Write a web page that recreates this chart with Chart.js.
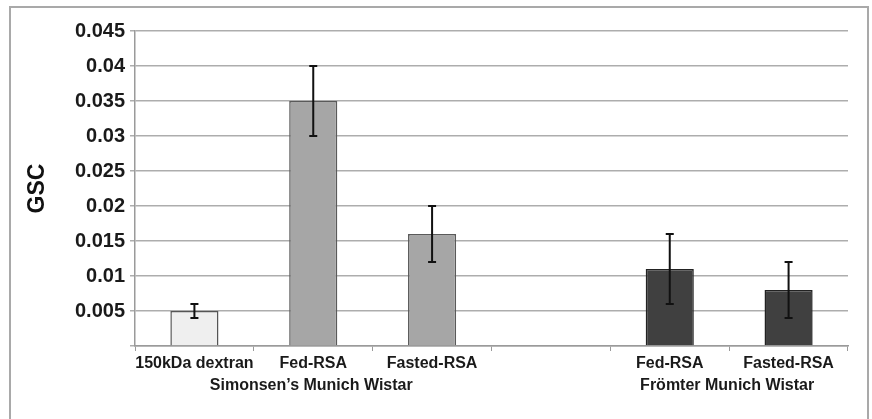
<!DOCTYPE html>
<html>
<head>
<meta charset="utf-8">
<script src="https://cdn.jsdelivr.net/npm/chart.js@4/dist/chart.umd.min.js"></script>
<style>
  html, body { margin: 0; padding: 0; background: #fff; }
  #wrap { width: 872px; height: 419px; position: relative; }
</style>
</head>
<body>
<div id="wrap"><canvas id="myChart"></canvas></div>
<script>
// categories (the empty one is the gap between the two strains)
const categories = ['150kDa dextran', 'Fed-RSA', 'Fasted-RSA', '', 'Fed-RSA', 'Fasted-RSA'];
const gscValues = [0.005, 0.035, 0.016, null, 0.011, 0.008];
const gscErrors = [0.001, 0.005, 0.004, null, 0.005, 0.004];
const groupNames = ["Simonsen\u2019s Munich Wistar", 'Frömter Munich Wistar'];
const groupFirst = [0, 4];
const groupLast = [2, 5];

const fillColors = ['#efefef', '#a6a6a6', '#a6a6a6', '#ffffff', '#404040', '#404040'];
const edgeColors = ['#555555', '#5a5a5a', '#5a5a5a', '#ffffff', '#222222', '#222222'];

const FONT = '"Liberation Sans", Arial, sans-serif';

// outer frame of the figure
const framePlugin = {
  id: 'frame',
  beforeDraw(chart) {
    const c = chart.ctx;
    c.save();
    c.strokeStyle = '#a9a9a9';
    c.lineWidth = 2;
    c.strokeRect(10, 7, 858, 500);
    c.restore();
  }
};

// error bars, drawn through the scales
const errorBarPlugin = {
  id: 'errorBars',
  afterDatasetsDraw(chart) {
    const c = chart.ctx;
    const x = chart.scales.x, y = chart.scales.y;
    c.save();
    c.strokeStyle = '#111';
    c.lineWidth = 2;
    gscValues.forEach((v, i) => {
      if (v === null) return;
      const px = x.getPixelForValue(i);
      const top = y.getPixelForValue(v + gscErrors[i]);
      const bot = y.getPixelForValue(v - gscErrors[i]);
      c.beginPath();
      c.moveTo(px, top); c.lineTo(px, bot);
      c.moveTo(px - 4, top); c.lineTo(px + 4, top);
      c.moveTo(px - 4, bot); c.lineTo(px + 4, bot);
      c.stroke();
    });
    c.restore();
  }
};

// second row of category labels (strain groups)
const groupPlugin = {
  id: 'groups',
  afterDraw(chart) {
    const c = chart.ctx;
    const x = chart.scales.x;
    c.save();
    c.font = 'bold 16px ' + FONT;
    c.fillStyle = '#1a1a1a';
    c.textAlign = 'center';
    c.textBaseline = 'middle';
    groupNames.forEach((name, g) => {
      const cx = (x.getPixelForValue(groupFirst[g]) + x.getPixelForValue(groupLast[g])) / 2;
      c.fillText(name, cx - 2, 386);
    });
    c.restore();
  }
};

const ctx = document.getElementById('myChart').getContext('2d');
new Chart(ctx, {
  type: 'bar',
  data: {
    labels: categories,
    datasets: [{
      label: 'GSC',
      data: gscValues,
      backgroundColor: fillColors,
      borderColor: edgeColors,
      borderWidth: 1.5,
      categoryPercentage: 1,
      barPercentage: 0.405
    }]
  },
  options: {
    responsive: true,
    maintainAspectRatio: false,
    animation: false,
    layout: { padding: { left: 10, right: 24, top: 31, bottom: 0 } },
    plugins: {
      legend: { display: false },
      tooltip: { enabled: false }
    },
    scales: {
      x: {
        afterFit: (s) => { s.height = 73; },
        grid: {
          offset: true,
          drawOnChartArea: false,
          color: '#9a9a9a',
          tickLength: 5
        },
        border: { color: '#9a9a9a', width: 1.5 },
        ticks: {
          color: '#1a1a1a',
          font: { family: FONT, size: 16, weight: 'bold' },
          padding: 3,
          maxRotation: 0,
          autoSkip: false
        }
      },
      y: {
        min: 0,
        max: 0.045,
        afterFit: (s) => { s.width = 125; },
        ticks: {
          stepSize: 0.005,
          color: '#1a1a1a',
          font: { family: FONT, size: 20, weight: 'bold' },
          padding: 5,
          callback: (v) => v === 0 ? '' : String(Number(v.toFixed(3)))
        },
        grid: { color: '#adadad', lineWidth: 1.5, tickLength: 5 },
        border: { color: '#9a9a9a', width: 1.5 },
        title: {
          display: true,
          text: 'GSC',
          color: '#111',
          font: { family: FONT, size: 23, weight: 'bold' },
          padding: { top: 14, bottom: 0 }
        }
      }
    }
  },
  plugins: [framePlugin, errorBarPlugin, groupPlugin]
});
</script>
</body>
</html>
